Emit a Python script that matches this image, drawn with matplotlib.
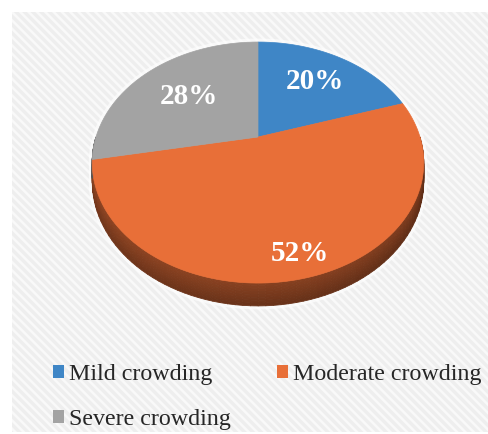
import numpy as np
import matplotlib.pyplot as plt
from matplotlib.collections import PolyCollection
from matplotlib.patches import Patch, Rectangle, Polygon
import matplotlib.colors as mcolors

categories = ['Mild crowding', 'Moderate crowding', 'Severe crowding']
values = [20, 52, 28]
labels = ['20%', '52%', '28%']
colors = ['#3f86c6', '#e86f38', '#a3a3a3']

# projection of the tilted disk (pixel coords, y down)
CX, CY = 258, 137
S, SC, P = 162, 115.1, 0.212
DEPTH = 18
label_r = [0.66, 0.86, 0.6]

plt.rcParams['hatch.linewidth'] = 1.8
plt.rcParams['hatch.color'] = '#f9f9f9'


def project(theta, r=1.0, depth=0.0):
    th = np.radians(theta)
    x, y = r * np.cos(th), r * np.sin(th)
    w = 1 + P * y
    return CX + S * x / w, CY - SC * y / w + depth / w


fig = plt.figure(figsize=(4.89, 4.34), dpi=100)
ax = fig.add_axes([0, 0, 1, 1])
ax.set_xlim(0, 489)
ax.set_ylim(434, 0)
ax.axis('off')

ax.add_patch(Rectangle((12, 12), 477, 420, facecolor='#eeeeee',
                       edgecolor='#f9f9f9', hatch='\\\\\\\\', lw=0, zorder=0))

# wedge angles, clockwise from 12 o'clock
starts, ends = [], []
a = 90.0
for v in values:
    starts.append(a)
    a -= v / sum(values) * 360
    ends.append(a)

# soft white glow round the disk
gx, gy = project(np.linspace(0, 360, 240))
gx2, gy2 = project(np.linspace(-180, 0, 120), 1, DEPTH)
ax.fill(np.r_[gx, gx2], np.r_[gy, gy2], facecolor='none', edgecolor='white',
        lw=5, alpha=0.6, zorder=1)

# side wall (front half only)
polys, fcs = [], []
ts = np.linspace(0, 1, 9)
for st, en, c in zip(starts, ends, colors):
    lo, hi = max(en, -180.0), min(st, 0.0)
    if lo >= hi:
        lo, hi = max(en + 360, -180.0), min(st + 360, 0.0)
        if lo >= hi:
            continue
    rgb = np.array(mcolors.to_rgb(c))
    th = np.linspace(lo, hi, 80)
    for i in range(len(th) - 1):
        u = (th[i] + 180) / 180
        for j in range(len(ts) - 1):
            x1, y1 = project(th[i:i + 2], 1, DEPTH * ts[j])
            x2, y2 = project(th[i:i + 2], 1, DEPTH * ts[j + 1])
            polys.append(list(zip(x1, y1)) + list(zip(x2[::-1], y2[::-1])))
            f = 0.55 * ts[j] + 0.45 * u
            fcs.append(rgb * (0.64 - 0.26 * f))
ax.add_collection(PolyCollection(polys, facecolors=fcs, edgecolors=fcs,
                                 linewidths=0.6, zorder=2))

# top face
for st, en, c in zip(starts, ends, colors):
    th = np.linspace(st, en, 120)
    xs, ys = project(th)
    pts = [(CX, CY)] + list(zip(xs, ys))
    ax.add_patch(Polygon(pts, closed=True, facecolor=c, edgecolor=c,
                         lw=0.5, zorder=3))

for st, en, lab, r in zip(starts, ends, labels, label_r):
    x, y = project((st + en) / 2, r)
    ax.text(x, y, lab, color='white', fontsize=21, fontweight='bold',
            family='Liberation Serif', ha='center', va='center', zorder=4)

# legend fills column-wise: put Mild, Severe in column 1 and Moderate in column 2
order = [0, 2, 1]
handles = [Patch(facecolor=colors[i], edgecolor='none') for i in order]
leg = ax.legend(handles, [categories[i] for i in order], loc='upper left', ncol=2,
                bbox_to_anchor=(53, 364), bbox_transform=ax.transData,
                frameon=False, prop={'family': 'Liberation Serif', 'size': 17.3},
                handlelength=0.45, handleheight=0.45, handletextpad=0.2,
                columnspacing=1.95, labelspacing=1.0, borderpad=0,
                borderaxespad=0)
for t in leg.get_texts():
    t.set_color('#262626')

fig.savefig('out.png', dpi=100)
